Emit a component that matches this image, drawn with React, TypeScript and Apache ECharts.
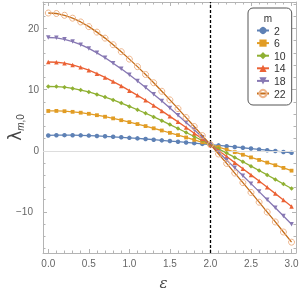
import React, { useEffect, useRef } from "react";
import * as echarts from "echarts";

const epsilon = [0, 0.1, 0.2, 0.3, 0.4, 0.5, 0.6, 0.7, 0.8, 0.9, 1.0, 1.1, 1.2, 1.3, 1.4, 1.5, 1.6, 1.7, 1.8, 1.9, 2.0, 2.1, 2.2, 2.3, 2.4, 2.5, 2.6, 2.7, 2.8, 2.9, 3.0];

const lambda2 = [2.5, 2.54, 2.55, 2.54, 2.52, 2.48, 2.42, 2.36, 2.28, 2.2, 2.11, 2.02, 1.92, 1.81, 1.7, 1.59, 1.48, 1.36, 1.24, 1.12, 1.0, 0.88, 0.75, 0.62, 0.49, 0.36, 0.22, 0.09, -0.05, -0.19, -0.33];
const lambda6 = [6.5, 6.51, 6.46, 6.36, 6.22, 6.04, 5.81, 5.56, 5.29, 4.99, 4.68, 4.36, 4.03, 3.67, 3.31, 2.93, 2.56, 2.17, 1.78, 1.39, 1.0, 0.6, 0.18, -0.23, -0.65, -1.08, -1.5, -1.93, -2.36, -2.8, -3.25];
const lambda10 = [10.5, 10.49, 10.38, 10.19, 9.92, 9.6, 9.2, 8.77, 8.3, 7.79, 7.25, 6.7, 6.13, 5.53, 4.91, 4.28, 3.64, 2.98, 2.33, 1.66, 1.0, 0.32, -0.38, -1.09, -1.79, -2.51, -3.23, -3.95, -4.68, -5.42, -6.17];
const lambda14 = [14.5, 14.46, 14.3, 14.01, 13.63, 13.16, 12.6, 11.98, 11.3, 10.59, 9.82, 9.05, 8.24, 7.39, 6.51, 5.62, 4.72, 3.79, 2.87, 1.94, 1.0, 0.04, -0.94, -1.94, -2.93, -3.94, -4.95, -5.97, -7.0, -8.03, -9.09];
const lambda18 = [18.5, 18.44, 18.21, 17.84, 17.33, 16.72, 15.99, 15.19, 14.31, 13.38, 12.4, 11.39, 10.35, 9.25, 8.12, 6.97, 5.8, 4.61, 3.42, 2.21, 1.0, -0.25, -1.51, -2.79, -4.07, -5.37, -6.67, -7.99, -9.31, -10.65, -12.01];
const lambda22 = [22.5, 22.42, 22.13, 21.66, 21.04, 20.28, 19.38, 18.4, 17.32, 16.18, 14.97, 13.74, 12.46, 11.11, 9.72, 8.31, 6.88, 5.42, 3.96, 2.48, 1.0, -0.53, -2.07, -3.64, -5.21, -6.81, -8.4, -10.01, -11.63, -13.27, -14.93];

const seriesNames = ["2", "6", "10", "14", "18", "22"];
const seriesValues = [lambda2, lambda6, lambda10, lambda14, lambda18, lambda22];

const criticalEpsilon = 2;

const xMajorTicks = [0, 0.5, 1, 1.5, 2, 2.5, 3];
const xMinorTicks = [0.1, 0.2, 0.3, 0.4, 0.6, 0.7, 0.8, 0.9, 1.1, 1.2, 1.3, 1.4, 1.6, 1.7, 1.8, 1.9, 2.1, 2.2, 2.3, 2.4, 2.6, 2.7, 2.8, 2.9];
const yMajorTicks = [-10, 0, 10, 20];
const yMinorTicks = [-16, -14, -12, -8, -6, -4, -2, 2, 4, 6, 8, 12, 14, 16, 18, 22, 24];

const xMin = -0.065;
const xMax = 3.055;
const yMin = -16.7;
const yMax = 24.3;

const colors = ["#5E81B5", "#E19C24", "#8FB032", "#EB6235", "#8778B3", "#C56E1A"];
const FRAME = "#b4b4b4";
const LABEL = "#666666";
const FONT = "Liberation Sans, Arial, sans-serif";

function tickAxis(dim: "x" | "y", position: string, ticks: number[], len: number, showLine: boolean, extra: any = {}) {
  return {
    type: "value",
    position,
    min: dim === "x" ? xMin : yMin,
    max: dim === "x" ? xMax : yMax,
    axisLine: { show: showLine, onZero: false, lineStyle: { color: FRAME, width: 1 } },
    axisTick: { show: true, inside: true, length: len, customValues: ticks, lineStyle: { color: FRAME, width: 1 } },
    axisLabel: { show: false },
    splitLine: { show: false },
    ...extra,
  };
}

export default function App() {
  const ref = useRef<HTMLDivElement>(null);
  useEffect(() => {
    if (!ref.current) return;
    const chart = echarts.init(ref.current, null, { renderer: "svg" });
    const symbols = [
      { symbol: "circle", size: 4.5 },
      { symbol: "rect", size: 3.8 },
      { symbol: "diamond", size: 4.5 },
      { symbol: "triangle", size: 4.5 },
      { symbol: "path://M0,0 L10,0 L5,9 Z", size: 4.5 },
      { symbol: "circle", size: 6 },
    ];
    const series: any[] = seriesNames.map((name, k) => {
      const isOpen = k === 5;
      return {
        name,
        type: "line",
        data: epsilon.map((e, i) => [e, seriesValues[k][i]]),
        symbol: symbols[k].symbol,
        symbolSize: symbols[k].size,
        showSymbol: true,
        lineStyle: { color: colors[k], width: 1.3 },
        itemStyle: isOpen
          ? { color: "rgba(255,255,255,0)", borderColor: "#EDB48A", borderWidth: 1 }
          : { color: colors[k] },
        emphasis: { disabled: true },
        z: 3 + k,
      };
    });
    series[0].markLine = {
      silent: true,
      symbol: ["none", "none"],
      label: { show: false },
      animation: false,
      data: [
        { yAxis: 0, lineStyle: { color: "#dddddd", width: 1, type: "solid" } },
        { xAxis: criticalEpsilon, lineStyle: { color: "#000000", width: 1.3, type: [3, 2] } },
      ],
    };

    chart.setOption({
      animation: false,
      grid: { left: 43, right: 12, top: 2, bottom: 38, containLabel: false, outerBoundsMode: "none" },
      legend: {
        data: seriesNames,
        orient: "vertical",
        left: 248,
        top: 8,
        padding: [17, 6, 6, 8],
        itemGap: 1.6,
        itemWidth: 12,
        itemHeight: 9,
        backgroundColor: "#ffffff",
        borderColor: "#555555",
        borderWidth: 1,
        borderRadius: 5,
        textStyle: { fontSize: 10.5, color: "#333333", fontFamily: FONT },
        selectedMode: false,
      },
      graphic: [
        {
          type: "text",
          x: 268,
          y: 18,
          z: 100,
          style: { text: "m", fontSize: 10, fill: "#333333", fontFamily: FONT, textAlign: "center", textVerticalAlign: "middle" },
        },
      ],
      xAxis: [
        tickAxis("x", "bottom", xMajorTicks, 4, true, {
          axisLabel: {
            show: true,
            customValues: xMajorTicks,
            formatter: (v: number) => v.toFixed(1),
            margin: 5,
            fontSize: 10,
            color: LABEL,
            fontFamily: FONT,
          },
          name: "ε",
          nameLocation: "middle",
          nameGap: 22,
          nameMoveOverlap: false,
          nameTextStyle: { fontSize: 15, fontStyle: "italic", color: "#444444", fontFamily: "DejaVu Serif, serif", padding: [0, 12, 0, 0] },
        }),
        tickAxis("x", "bottom", xMinorTicks, 2.5, false),
        tickAxis("x", "top", xMajorTicks, 4, true),
        tickAxis("x", "top", xMinorTicks, 2.5, false),
      ],
      yAxis: [
        tickAxis("y", "left", yMajorTicks, 4, true, {
          axisLabel: {
            show: true,
            customValues: yMajorTicks,
            formatter: (v: number) => (v < 0 ? "{n|−" + Math.abs(v) + "}" : String(v)),
            margin: 4,
            fontSize: 10,
            color: LABEL,
            fontFamily: FONT,
            rich: { n: { fontSize: 10, color: LABEL, fontFamily: FONT, padding: [0, 6, 0, 0] } },
          },
          name: "{a|λ}{b|m}{c|,0}",
          nameLocation: "middle",
          nameGap: 20,
          nameRotate: 90,
          nameMoveOverlap: false,
          nameTextStyle: {
            color: "#444444",
            rich: {
              a: { fontSize: 17, color: "#444444", fontFamily: "DejaVu Sans, sans-serif", verticalAlign: "bottom" },
              b: { fontSize: 10, color: "#444444", fontStyle: "italic", fontFamily: FONT, verticalAlign: "bottom", padding: [0, 0, -2, 0] },
              c: { fontSize: 10, color: "#444444", fontFamily: FONT, verticalAlign: "bottom", padding: [0, 0, -2, 0] },
            },
          },
        }),
        tickAxis("y", "left", yMinorTicks, 2.5, false),
        tickAxis("y", "right", yMajorTicks, 4, true),
        tickAxis("y", "right", yMinorTicks, 2.5, false),
      ],
      series,
    });
    return () => chart.dispose();
  }, []);
  return <div ref={ref} style={{ position: "fixed", left: 0, top: 0, width: 308, height: 291 }} />;
}
